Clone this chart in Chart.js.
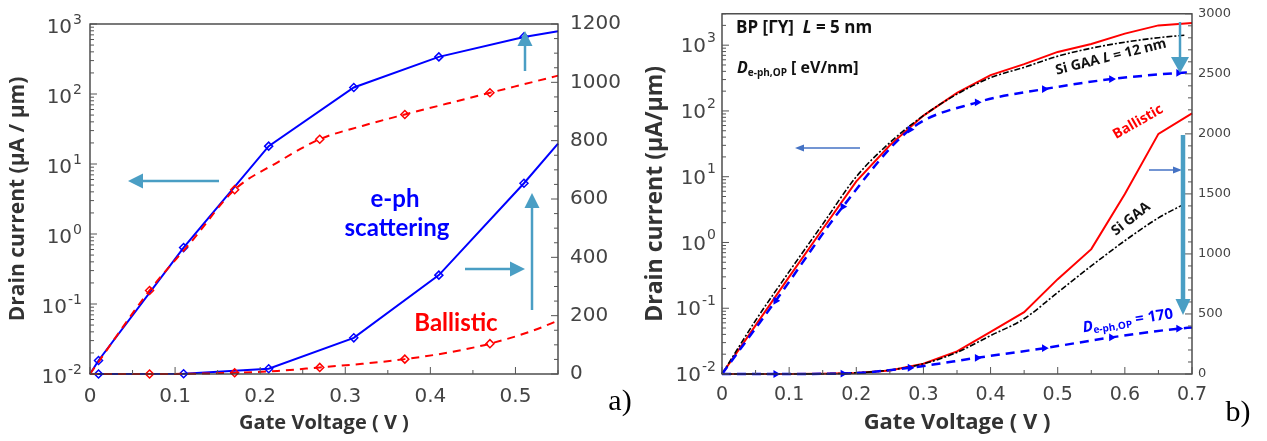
<!DOCTYPE html>
<html>
<head>
<meta charset="utf-8">
<script src="https://cdn.jsdelivr.net/npm/chart.js@4.4.0/dist/chart.umd.min.js"></script>
<style>
  body { margin: 0; background: #fff; width: 1267px; height: 441px; position: relative; overflow: hidden; }
  canvas { position: absolute; top: 0; }
  #panelA { left: 0; }
  #panelB { left: 640px; }
</style>
</head>
<body>
<canvas id="panelA" width="640" height="441"></canvas>
<canvas id="panelB" width="627" height="441"></canvas>
<script>
// ---- panel a) : e-ph scattering vs ballistic ----
const voltA_eph = [0, 0.01, 0.11, 0.21, 0.31, 0.41, 0.51, 0.55]
const currA_eph = [0.01, 0.0156, 0.64, 18, 124, 339, 654, 790]
const markA_eph = [0.01, 0.11, 0.21, 0.31, 0.41, 0.51]

const voltA_bal = [0, 0.07, 0.12, 0.17, 0.22, 0.27, 0.32, 0.37, 0.42, 0.47, 0.52, 0.55]
const currA_bal = [0.01, 0.156, 0.8, 4.3, 10.5, 22.6, 35, 51, 73, 104, 148, 183]
const markA_bal = [0.07, 0.17, 0.27, 0.37, 0.47]

// ---- panel b) : BP [GY] L = 5 nm ----
const voltB_bal = [0, 0.05, 0.1, 0.15, 0.2, 0.25, 0.3, 0.35, 0.4, 0.45, 0.5, 0.55, 0.6, 0.65, 0.7]
const currB_bal = [0.01, 0.055, 0.3, 1.6, 8.5, 30, 85, 188, 350, 515, 790, 1040, 1500, 2000, 2170]

const voltB_si = [0, 0.05, 0.1, 0.15, 0.2, 0.25, 0.3, 0.35, 0.4, 0.45, 0.5, 0.55, 0.6, 0.65, 0.69]
const currB_si = [0.01, 0.065, 0.36, 1.9, 10, 33, 85, 180, 320, 460, 680, 900, 1110, 1300, 1420]

const voltB_eph = [0, 0.08, 0.18, 0.28, 0.38, 0.48, 0.58, 0.68, 0.7]
const currB_eph = [0.01, 0.13, 3.5, 52, 135, 215, 305, 378, 387]
const markB_eph = [0.08, 0.18, 0.28, 0.38, 0.48, 0.58, 0.68]

// ---- ticks ----
const xTicksA = [0, 0.1, 0.2, 0.3, 0.4, 0.5]
const xTicksB = [0, 0.1, 0.2, 0.3, 0.4, 0.5, 0.6, 0.7]
const logTicks = [0.01, 0.1, 1, 10, 100, 1000]
const linTicksA = [0, 200, 400, 600, 800, 1000, 1200]
const linTicksB = [0, 500, 1000, 1500, 2000, 2500, 3000]

function pts(xs, ys) { return xs.map((x, i) => ({x: x, y: ys[i]})) }

function line(xs, ys, axis, st) {
  return {
    data: pts(xs, ys),
    yAxisID: axis,
    borderColor: st.color,
    borderWidth: st.width || 2,
    borderDash: st.dash || [],
    cubicInterpolationMode: st.smooth ? 'monotone' : 'default',
    tension: 0,
    fill: false,
    clip: false,
    pointStyle: st.shape || 'rectRot',
    pointRotation: st.rot || 0,
    pointRadius: c => (c.raw && st.marks && st.marks.includes(c.raw.x)) ? (st.r || 4) : 0,
    pointBorderColor: st.color,
    pointBackgroundColor: st.filled ? st.color : 'rgba(255,255,255,0)',
    pointBorderWidth: 1.5
  }
}

// box, inward tick marks and the 10^n labels of the log axis
const frame = {
  id: 'frame',
  afterDraw(chart, args, o) {
    const {ctx, chartArea: a, scales} = chart
    ctx.save()
    ctx.strokeStyle = '#333'
    ctx.lineWidth = 1.3
    ctx.strokeRect(a.left, a.top, a.right - a.left, a.bottom - a.top)
    ctx.lineWidth = 1
    ctx.strokeStyle = '#555'
    ctx.beginPath()
    for (let i = 0; i * o.xMinor <= o.xMax + 1e-9; i++) {
      const px = scales.x.getPixelForValue(i * o.xMinor)
      const len = i % 2 === 0 ? 7 : 4
      ctx.moveTo(px, a.bottom); ctx.lineTo(px, a.bottom - len)
    }
    for (let i = 0; i * o.linMinor <= o.linMax + 1e-9; i++) {
      const py = scales.yLin.getPixelForValue(i * o.linMinor)
      const len = (i * o.linMinor) % o.linMajor === 0 ? 7 : 4
      ctx.moveTo(a.right, py); ctx.lineTo(a.right - len, py)
    }
    for (let e = -2; e <= 3; e++) {
      for (let m = 1; m <= 9; m++) {
        const v = m * Math.pow(10, e)
        if (v > o.logMax * 1.0001) continue
        const py = scales.yLog.getPixelForValue(v)
        const len = m === 1 ? 7 : 4
        ctx.moveTo(a.left, py); ctx.lineTo(a.left + len, py)
      }
    }
    ctx.stroke()

    const L = o.logLabel
    ctx.fillStyle = '#444'
    ctx.textAlign = 'right'
    ctx.textBaseline = 'middle'
    logTicks.forEach(v => {
      const py = scales.yLog.getPixelForValue(v)
      const exp = String(Math.round(Math.log10(v)))
      const xr = a.left - L.pad
      ctx.font = `${L.sup}px DejaVu Sans`
      const ew = ctx.measureText(exp).width
      ctx.fillText(exp, xr, py + L.supDy)
      ctx.font = `${L.size}px DejaVu Sans`
      ctx.fillText('10', xr - ew - 1, py + L.dy)
    })
    ctx.restore()
  }
}

// arrows and labels placed on the figure
function drawRich(ctx, n) {
  ctx.save()
  ctx.translate(n.x, n.y)
  ctx.rotate((n.angle || 0) * Math.PI / 180)
  ctx.fillStyle = n.color
  ctx.textBaseline = 'middle'
  let total = 0
  n.segs.forEach(s => { ctx.font = s.f; total += ctx.measureText(s.t).width })
  let x = n.align === 'left' ? 0 : -total / 2
  n.segs.forEach(s => {
    ctx.font = s.f
    ctx.fillText(s.t, x, s.dy || 0)
    x += ctx.measureText(s.t).width
  })
  ctx.restore()
}

function drawArrow(ctx, n) {
  const ang = Math.atan2(n.y2 - n.y1, n.x2 - n.x1)
  const bx = n.x2 - n.head * Math.cos(ang), by = n.y2 - n.head * Math.sin(ang)
  ctx.save()
  ctx.strokeStyle = n.color
  ctx.fillStyle = n.color
  ctx.lineWidth = n.lw
  ctx.beginPath(); ctx.moveTo(n.x1, n.y1); ctx.lineTo(bx, by); ctx.stroke()
  const hw = n.hw / 2
  ctx.beginPath()
  ctx.moveTo(n.x2, n.y2)
  ctx.lineTo(bx + hw * Math.sin(ang), by - hw * Math.cos(ang))
  ctx.lineTo(bx - hw * Math.sin(ang), by + hw * Math.cos(ang))
  ctx.closePath(); ctx.fill()
  ctx.restore()
}

const notes = {
  id: 'notes',
  afterDraw(chart, args, o) {
    o.items.forEach(n => n.type === 'arrow' ? drawArrow(chart.ctx, n) : drawRich(chart.ctx, n))
  }
}

function panel(id, cfg) {
  return new Chart(document.getElementById(id), {
    type: 'line',
    data: {datasets: cfg.datasets},
    options: {
      responsive: false,
      animation: false,
      events: [],
      devicePixelRatio: 1,
      layout: {padding: {top: cfg.top, left: 0, right: 0, bottom: 0}},
      plugins: {legend: {display: false}, tooltip: {enabled: false}, frame: cfg.frame, notes: {items: cfg.notes}},
      scales: {
        x: {
          type: 'linear', min: 0, max: cfg.xMax,
          grid: {display: false, drawTicks: false}, border: {display: false},
          afterBuildTicks: s => { s.ticks = cfg.xTicks.map(v => ({value: v})) },
          afterFit: s => { s.height = cfg.xHeight },
          ticks: {autoSkip: false, maxRotation: 0, padding: cfg.xPad, color: '#444', font: cfg.xFont, callback: v => String(v)},
          title: {display: true, text: 'Gate Voltage ( V )', color: '#333', font: cfg.xTitleFont, padding: {top: 0, bottom: cfg.xTitlePad}}
        },
        yLog: {
          type: 'logarithmic', position: 'left', min: 0.01, max: cfg.logMax,
          grid: {display: false, drawTicks: false}, border: {display: false},
          afterBuildTicks: s => { s.ticks = logTicks.map(v => ({value: v})) },
          afterFit: s => { s.width = cfg.leftW },
          ticks: {display: false},
          title: {display: true, text: cfg.yTitle, color: '#333', font: cfg.yTitleFont, padding: {top: cfg.yTitlePad, bottom: 0}}
        },
        yLin: {
          type: 'linear', position: 'right', min: 0, max: cfg.linMax,
          grid: {display: false, drawTicks: false}, border: {display: false},
          afterBuildTicks: s => { s.ticks = cfg.linTicks.map(v => ({value: v})) },
          afterFit: s => { s.width = cfg.rightW },
          ticks: {autoSkip: false, padding: cfg.linPad, color: '#444', font: cfg.linFont, callback: v => String(v)}
        }
      }
    },
    plugins: [frame, notes]
  })
}

const BLUE = '#0000ff', RED = '#ff0000', ARROW = '#4a9ec4'
const gill = 'Lato', sans = 'Open Sans'

panel('panelA', {
  top: 13, leftW: 90, rightW: 82, xHeight: 67, xMax: 0.55, logMax: 1000, linMax: 1200,
  xTicks: xTicksA, linTicks: linTicksA,
  xPad: 11, linPad: 12,
  xFont: {family: 'DejaVu Sans', size: 20}, linFont: {family: 'DejaVu Sans', size: 20},
  xTitleFont: {family: sans, size: 20, weight: 'bold'}, xTitlePad: 6,
  yTitle: 'Drain current (μA / μm)', yTitleFont: {family: sans, size: 21, weight: 'bold'}, yTitlePad: 5,
  frame: {xMinor: 0.05, xMax: 0.55, linMinor: 50, linMajor: 200, linMax: 1200, logMax: 1000,
          logLabel: {size: 20, sup: 14, pad: 8, dy: 4, supDy: -4}},
  datasets: [
    line(voltA_bal, currA_bal, 'yLog', {color: RED, dash: [8, 6], marks: markA_bal, smooth: true}),
    line(voltA_bal, currA_bal, 'yLin', {color: RED, dash: [8, 6], marks: markA_bal, smooth: true}),
    line(voltA_eph, currA_eph, 'yLog', {color: BLUE, marks: markA_eph}),
    line(voltA_eph, currA_eph, 'yLin', {color: BLUE, marks: markA_eph})
  ],
  notes: [
    {type: 'arrow', x1: 219, y1: 181, x2: 128, y2: 181, lw: 2.5, head: 15, hw: 15, color: ARROW},
    {type: 'arrow', x1: 465, y1: 269, x2: 525, y2: 269, lw: 2.5, head: 15, hw: 15, color: ARROW},
    {type: 'arrow', x1: 532, y1: 310, x2: 532, y2: 193, lw: 2.5, head: 15, hw: 15, color: ARROW},
    {type: 'arrow', x1: 525, y1: 71, x2: 525, y2: 31, lw: 2.5, head: 15, hw: 15, color: ARROW},
    {x: 395, y: 199, color: BLUE, segs: [{t: 'e-ph', f: `bold 24px ${gill}`}]},
    {x: 397, y: 228, color: BLUE, segs: [{t: 'scattering', f: `bold 24px ${gill}`}]},
    {x: 456, y: 323, color: RED, segs: [{t: 'Ballistic', f: `bold 24px ${gill}`}]},
    {x: 620, y: 402, color: '#000', segs: [{t: 'a)', f: '30px Liberation Serif'}]}
  ]
})

panel('panelB', {
  top: 11, leftW: 82, rightW: 75, xHeight: 67, xMax: 0.7, logMax: 3000, linMax: 3000,
  xTicks: xTicksB, linTicks: linTicksB,
  xPad: 10, linPad: 6,
  xFont: {family: 'DejaVu Sans', size: 19}, linFont: {family: 'DejaVu Sans', size: 13},
  xTitleFont: {family: sans, size: 22, weight: 'bold'}, xTitlePad: 5,
  yTitle: 'Drain current (μA/μm)', yTitleFont: {family: sans, size: 23, weight: 'bold'}, yTitlePad: 2,
  frame: {xMinor: 0.05, xMax: 0.7, linMinor: 100, linMajor: 500, linMax: 3000, logMax: 3000,
          logLabel: {size: 20, sup: 14, pad: 6, dy: 2, supDy: -7}},
  datasets: [
    line(voltB_eph, currB_eph, 'yLog', {color: BLUE, dash: [9, 6], width: 2.5, marks: markB_eph, shape: 'triangle', rot: 90, r: 3, filled: true, smooth: true}),
    line(voltB_eph, currB_eph, 'yLin', {color: BLUE, dash: [9, 6], width: 2.5, marks: markB_eph, shape: 'triangle', rot: 90, r: 3, filled: true, smooth: true}),
    line(voltB_si, currB_si, 'yLog', {color: '#000', dash: [6, 2, 2, 2], width: 1.6, smooth: true}),
    line(voltB_si, currB_si, 'yLin', {color: '#000', dash: [6, 2, 2, 2], width: 1.6, smooth: true}),
    line(voltB_bal, currB_bal, 'yLog', {color: RED, width: 2}),
    line(voltB_bal, currB_bal, 'yLin', {color: RED, width: 2})
  ],
  notes: [
    {type: 'arrow', x1: 220, y1: 148, x2: 155, y2: 148, lw: 1.5, head: 9, hw: 7, color: '#4472c4'},
    {type: 'arrow', x1: 509, y1: 170, x2: 542, y2: 170, lw: 1.5, head: 9, hw: 7, color: '#4472c4'},
    {type: 'arrow', x1: 540, y1: 22, x2: 540, y2: 73, lw: 2.5, head: 16, hw: 18, color: ARROW},
    {type: 'arrow', x1: 543, y1: 135, x2: 543, y2: 315, lw: 4.5, head: 16, hw: 15, color: ARROW},
    {x: 96, y: 28, align: 'left', color: '#111', segs: [
      {t: 'BP [ΓY]  ', f: `bold 17px ${sans}`}, {t: 'L', f: `italic bold 17px ${sans}`}, {t: ' = 5 nm', f: `bold 17px ${sans}`}]},
    {x: 97, y: 68, align: 'left', color: '#111', segs: [
      {t: 'D', f: `italic bold 16px ${sans}`}, {t: 'e-ph,OP', f: `bold 10px ${sans}`, dy: 5}, {t: ' [ eV/nm]', f: `bold 16px ${sans}`}]},
    {x: 471, y: 57, angle: -14, color: '#111', segs: [
      {t: 'Si GAA ', f: `bold 14px ${sans}`}, {t: 'L', f: `italic bold 14px ${sans}`}, {t: ' = 12 nm', f: `bold 14px ${sans}`}]},
    {x: 498, y: 122, angle: -30, color: RED, segs: [{t: 'Ballistic', f: `bold 14px ${sans}`}]},
    {x: 491, y: 219, angle: -38, color: '#111', segs: [{t: 'Si GAA', f: `bold 14px ${sans}`}]},
    {x: 488, y: 321, angle: -9, color: BLUE, segs: [
      {t: 'D', f: `italic bold 15px ${sans}`}, {t: 'e-ph,OP', f: `bold 10px ${sans}`, dy: 4}, {t: ' = 170', f: `bold 15px ${sans}`}]},
    {x: 598, y: 413, color: '#000', segs: [{t: 'b)', f: '30px Liberation Serif'}]}
  ]
})
</script>
</body>
</html>
